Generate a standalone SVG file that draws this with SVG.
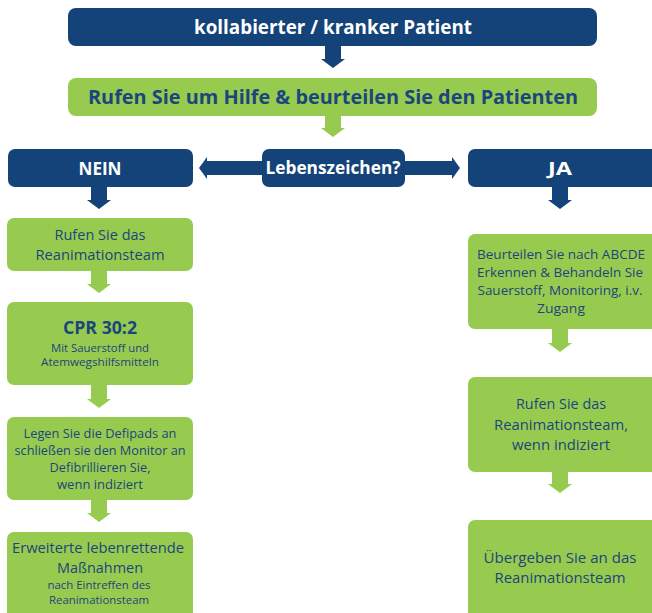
<svg xmlns="http://www.w3.org/2000/svg" width="652" height="613" viewBox="0 0 652 613">
<style>
.blue{fill:#134379}
.green{fill:#97cb50}
.wt{fill:#ffffff;font-family:"Open Sans","Liberation Sans",sans-serif;font-weight:bold;text-anchor:middle}
.bt{fill:#1b467c;font-family:"Open Sans","Liberation Sans",sans-serif;text-anchor:middle}
.b{font-weight:bold}
</style>
<rect width="652" height="613" fill="#ffffff"/>
<g id="connectors">
<path class="blue" d="M325,46 H341 V59 H345 L333,68 L321,59 H325 Z"/>
<path class="green" d="M325,116 H341 V128 H345 L333,137 L321,128 H325 Z"/>
<path class="blue" d="M199,168 L207,157 V161 H452 V157 L460,168 L452,179 V175 H207 V179 Z"/>
<path class="blue" d="M91,186 H107 V200 H111 L99,209 L87,200 H91 Z"/>
<path class="blue" d="M552,186 H568 V200 H572 L560,209 L548,200 H552 Z"/>
<path class="green" d="M91,271 H107 V284 H111 L99,293 L87,284 H91 Z"/>
<path class="green" d="M91,385 H107 V399 H111 L99,408 L87,399 H91 Z"/>
<path class="green" d="M91,500 H107 V513 H111 L99,522 L87,513 H91 Z"/>
<path class="green" d="M552,329 H568 V343 H572 L560,352 L548,343 H552 Z"/>
<path class="green" d="M552,472 H568 V484 H572 L560,493 L548,484 H552 Z"/>
</g>
<g id="n_patient">
<rect class="blue" x="68" y="8" width="529" height="38" rx="8"/>
<text class="wt" x="333" y="34" font-size="20" textLength="278" lengthAdjust="spacingAndGlyphs">kollabierter / kranker Patient</text>
</g>
<g id="n_hilfe">
<rect class="green" x="68" y="78" width="529" height="38" rx="8"/>
<text class="bt b" x="333" y="104" font-size="20" textLength="490" lengthAdjust="spacingAndGlyphs">Rufen Sie um Hilfe &amp; beurteilen Sie den Patienten</text>
</g>
<g id="n_nein">
<rect class="blue" x="8" y="149" width="185" height="38" rx="7"/>
<text class="wt" x="100" y="175" font-size="17" textLength="43" lengthAdjust="spacingAndGlyphs">NEIN</text>
</g>
<g id="n_leben">
<rect class="blue" x="262" y="149" width="143" height="38" rx="7"/>
<text class="wt" x="333" y="174" font-size="17" textLength="135" lengthAdjust="spacingAndGlyphs">Lebenszeichen?</text>
</g>
<g id="n_ja">
<rect class="blue" x="468" y="149" width="192" height="38" rx="7"/>
<text class="wt" x="560" y="175" font-size="17" textLength="24" lengthAdjust="spacingAndGlyphs">JA</text>
</g>
<g id="n_rufen_l">
<rect class="green" x="7" y="218" width="186" height="53" rx="7"/>
<text class="bt" x="100" y="240" font-size="15" textLength="91" lengthAdjust="spacingAndGlyphs">Rufen Sie das</text>
<text class="bt" x="100" y="260" font-size="15" textLength="129" lengthAdjust="spacingAndGlyphs">Reanimationsteam</text>
</g>
<g id="n_cpr">
<rect class="green" x="7" y="302" width="186" height="83" rx="7"/>
<text class="bt b" x="100" y="334" font-size="18" textLength="74" lengthAdjust="spacingAndGlyphs">CPR 30:2</text>
<text class="bt" x="100" y="352" font-size="11" textLength="98" lengthAdjust="spacingAndGlyphs">Mit Sauerstoff und</text>
<text class="bt" x="100" y="366" font-size="11" textLength="118" lengthAdjust="spacingAndGlyphs">Atemwegshilfsmitteln</text>
</g>
<g id="n_defi">
<rect class="green" x="7" y="417" width="186" height="83" rx="7"/>
<text class="bt" x="100" y="438" font-size="13" textLength="153" lengthAdjust="spacingAndGlyphs">Legen Sie die Defipads an</text>
<text class="bt" x="100" y="455" font-size="13" textLength="171" lengthAdjust="spacingAndGlyphs">schließen sie den Monitor an</text>
<text class="bt" x="100" y="472" font-size="13" textLength="101" lengthAdjust="spacingAndGlyphs">Defibrillieren Sie,</text>
<text class="bt" x="100" y="489" font-size="13" textLength="86" lengthAdjust="spacingAndGlyphs">wenn indiziert</text>
</g>
<g id="n_als">
<rect class="green" x="7" y="532" width="186" height="90" rx="7"/>
<text class="bt" x="98" y="553" font-size="15" textLength="172" lengthAdjust="spacingAndGlyphs">Erweiterte lebenrettende</text>
<text class="bt" x="100" y="573" font-size="15" textLength="86" lengthAdjust="spacingAndGlyphs">Maßnahmen</text>
<text class="bt" x="99" y="589" font-size="11" textLength="103" lengthAdjust="spacingAndGlyphs">nach Eintreffen des</text>
<text class="bt" x="99" y="604" font-size="11" textLength="100" lengthAdjust="spacingAndGlyphs">Reanimationsteam</text>
</g>
<g id="n_abcde">
<rect class="green" x="468" y="234" width="192" height="95" rx="7"/>
<text class="bt" x="561" y="259" font-size="13" textLength="168" lengthAdjust="spacingAndGlyphs">Beurteilen Sie nach ABCDE</text>
<text class="bt" x="560" y="277" font-size="13" textLength="166" lengthAdjust="spacingAndGlyphs">Erkennen &amp; Behandeln Sie</text>
<text class="bt" x="560" y="295" font-size="13" textLength="165" lengthAdjust="spacingAndGlyphs">Sauerstoff, Monitoring, i.v.</text>
<text class="bt" x="561" y="313" font-size="13" textLength="48" lengthAdjust="spacingAndGlyphs">Zugang</text>
</g>
<g id="n_rufen_r">
<rect class="green" x="468" y="377" width="192" height="95" rx="7"/>
<text class="bt" x="561" y="409" font-size="15" textLength="90" lengthAdjust="spacingAndGlyphs">Rufen Sie das</text>
<text class="bt" x="561" y="430" font-size="15" textLength="134" lengthAdjust="spacingAndGlyphs">Reanimationsteam,</text>
<text class="bt" x="561" y="450" font-size="15" textLength="98" lengthAdjust="spacingAndGlyphs">wenn indiziert</text>
</g>
<g id="n_uebergabe">
<rect class="green" x="468" y="520" width="192" height="100" rx="7"/>
<text class="bt" x="560" y="563" font-size="15" textLength="153" lengthAdjust="spacingAndGlyphs">Übergeben Sie an das</text>
<text class="bt" x="560" y="583" font-size="15" textLength="131" lengthAdjust="spacingAndGlyphs">Reanimationsteam</text>
</g>
</svg>
